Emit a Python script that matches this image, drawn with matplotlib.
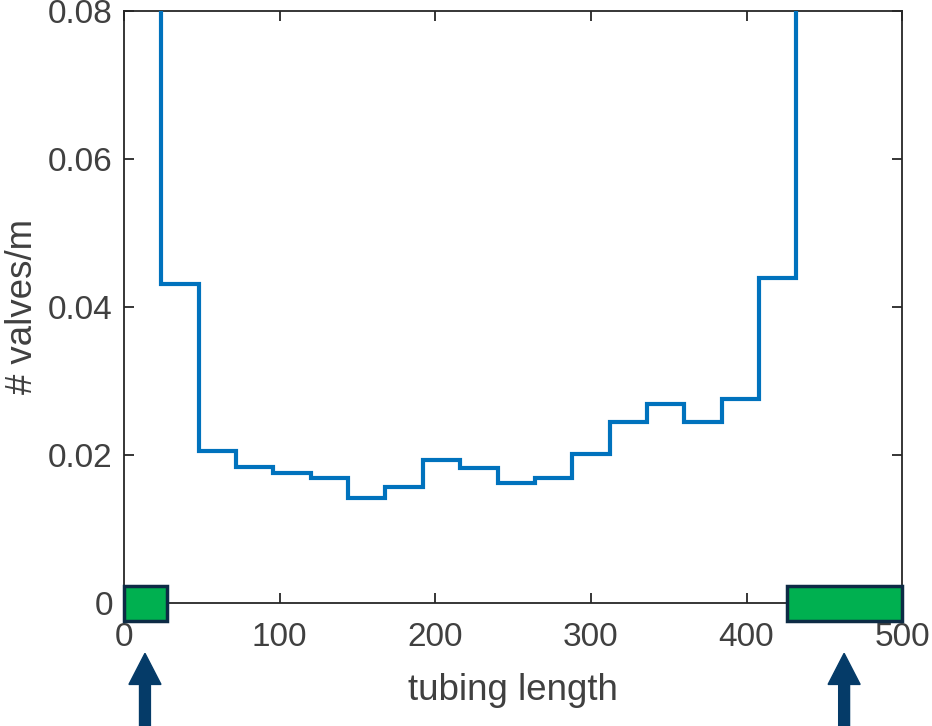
import numpy as np
import matplotlib
matplotlib.use("Agg")
import matplotlib.pyplot as plt
from matplotlib.patches import Rectangle, FancyArrow

plt.rcParams['font.family'] = ['Liberation Sans', 'DejaVu Sans']

# histogram of valves per metre along the tubing (bins of 24 m)
bin_edges = np.arange(0, 505, 24)
valves_per_m = [0.15, 0.0431, 0.0205, 0.0184, 0.0176, 0.0169, 0.0142, 0.0157,
                0.0193, 0.0182, 0.0162, 0.0169, 0.0201, 0.0245, 0.0269, 0.0245,
                0.0276, 0.0439, 0.15, 0.15, 0.15]

# green blocks on the axis and arrow markers below it
blocks = [(0, 27.6), (426, 500)]
arrow_x = [13.5, 462.7]

grey = '#262626'
fig = plt.figure(figsize=(9.32, 7.26), dpi=100)
ax = fig.add_axes([0.133, 0.1694, 0.835, 0.8155])

ax.stairs(valves_per_m, bin_edges, baseline=None, color='#0072BD', lw=3, zorder=3)

ax.set_xlim(0, 500)
ax.set_ylim(0, 0.08)
ax.set_xticks([0, 100, 200, 300, 400, 500])
ax.set_yticks([0, 0.02, 0.04, 0.06, 0.08])
ax.set_yticklabels(['0', '0.02', '0.04', '0.06', '0.08'])
ax.tick_params(direction='in', length=7, width=1.3, colors=grey, labelsize=24,
               top=True, right=True, labelcolor='#404040')
ax.tick_params(axis='x', pad=14)
ax.tick_params(axis='y', pad=8)
for s in ax.spines.values():
    s.set_color(grey)
    s.set_linewidth(1.3)

ax.set_xlabel('tubing length', fontsize=26.4, color='#404040', labelpad=14)
ax.set_ylabel('# valves/m', fontsize=26.4, color='#404040', labelpad=6)

for x0, x1 in blocks:
    ax.add_patch(Rectangle((x0, -0.0024), x1 - x0, 0.0047, facecolor='#00B050',
                           edgecolor='#0D2B45', lw=2.5, clip_on=False, zorder=5))

for xa in arrow_x:
    ax.add_patch(FancyArrow(xa, -0.019, 0, 0.0122, width=7.0, head_width=20.6,
                            head_length=0.0042, length_includes_head=True,
                            color='#053B68', clip_on=False, zorder=5))

fig.savefig('out.png', dpi=100)
